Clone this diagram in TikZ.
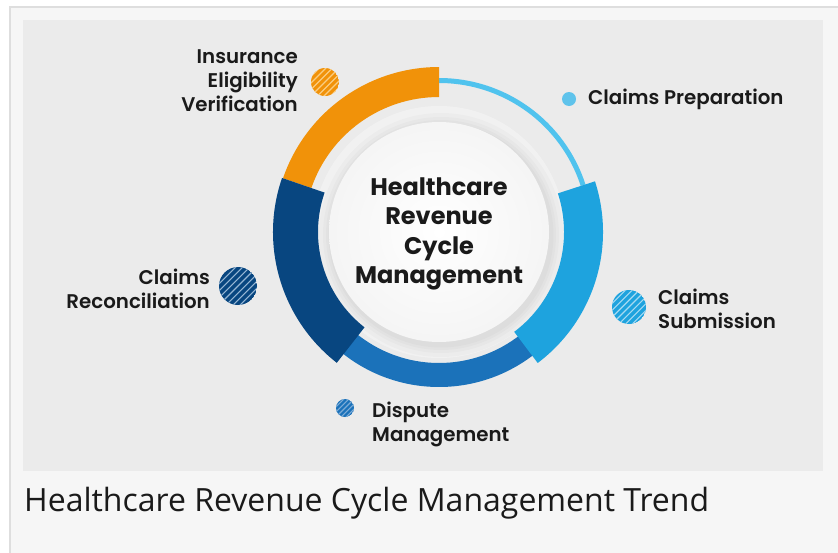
\documentclass[tikz,border=0pt]{standalone}
\usepackage{fontspec}
\setmainfont{Poppins}
\newfontfamily\lblfont{Poppins SemiBold}
\newfontfamily\capfont{Open Sans}
\usetikzlibrary{calc}
\definecolor{pagepanel}{RGB}{246,246,246}
\definecolor{pageborder}{RGB}{222,222,222}
\definecolor{innerbg}{RGB}{235,235,235}
\definecolor{txt}{RGB}{26,26,26}
\definecolor{segorange}{RGB}{241,146,9}
\definecolor{segorangelt}{RGB}{250,205,130}
\definecolor{segnavy}{RGB}{8,70,128}
\definecolor{segnavylt}{RGB}{150,182,212}
\definecolor{segmid}{RGB}{27,114,186}
\definecolor{segmidlt}{RGB}{125,172,215}
\definecolor{seglight}{RGB}{30,163,222}
\definecolor{seglightlt}{RGB}{165,218,242}
\definecolor{segthin}{RGB}{80,195,238}
\definecolor{prepdot}{RGB}{95,195,235}
\newcommand\annseg[5]{%
  \fill[#1] ($(c)+(#2:#5)$) arc[start angle=#2, end angle=#3, radius=#5]
    -- ($(c)+(#3:#4)$) arc[start angle=#3, end angle=#2, radius=#4] -- cycle;}
\newcommand\stripedot[6]{%
  \begin{scope}
    \clip (#1,#2) circle (#3);
    \fill[#4] (#1,#2) circle (#3);
    \foreach \k in {-7,...,7}
      \draw[#5, line width=1.1pt] ($(#1,#2)+(\k*#6*0.7071,-\k*#6*0.7071)+(-30,-30)$) -- ++(60,60);
  \end{scope}}
\tikzset{
  lbl/.style={font=\lblfont\fontsize{19.8}{24}\selectfont, text=txt, inner sep=0pt},
  ctr/.style={font=\bfseries\fontsize{24}{29.5}\selectfont, text=txt, inner sep=0pt, align=center},
}
\begin{document}
\begin{tikzpicture}[x=1pt,y=1pt]
\useasboundingbox (0,0) rectangle (838,-552);
\fill[white] (0,0) rectangle (838,-552);
\fill[pagepanel] (10,-7) rectangle (845,-560);
\draw[pageborder, line width=2pt] (10,-560) -- (10,-7) -- (845,-7);
\fill[innerbg] (23,-20) rectangle (823,-471);

\coordinate (c) at (439,-232);
% soft halo round the centre disc
\fill[white, opacity=0.35] (c) circle (126);
\foreach \r in {122,118,115,112.5}
  \fill[black, opacity=0.018] ($(c)+(2,-3)$) circle (\r);
\shade[inner color=white, outer color=white!96!black] (c) circle (110);

% ring
\draw[segthin, line width=5pt] ($(c)+(18:151.5)$) arc[start angle=18, end angle=90, radius=151.5];
\annseg{segmid}{230}{309}{131}{155}
\annseg{segorange}{90}{161}{135}{165}
\annseg{segnavy}{161}{232}{121}{166}
\annseg{seglight}{307}{378}{125}{164}

% icons
\stripedot{325}{-82}{14}{segorange}{segorangelt}{4.6}
\fill[prepdot] (569,-99) circle (7);
\stripedot{238}{-286}{19}{segnavy}{segnavylt}{5}
\stripedot{629}{-307}{17}{seglight}{seglightlt}{4.8}
\stripedot{345}{-408}{9}{segmid}{segmidlt}{3.6}

% texts
\node[ctr] (title) at (439,-234) {Healthcare\\Revenue\\Cycle\\Management};
\node[lbl, align=right, anchor=east] (ins) at (298,-81) {Insurance\\Eligibility\\Verification};
\node[lbl, anchor=west] (prep) at (588,-99) {Claims Preparation};
\node[lbl, align=right, anchor=east] (rec) at (210,-289) {Claims\\Reconciliation};
\node[lbl, align=left, anchor=west] (sub) at (658,-309) {Claims\\Submission};
\node[lbl, align=left, anchor=west] (disp) at (372,-424) {Dispute\\Management};
\node[font=\capfont\fontsize{32}{38}\selectfont, text=txt, inner sep=0pt, anchor=base west] (cap) at (24,-511) {Healthcare Revenue Cycle Management Trend};
\end{tikzpicture}
\end{document}
